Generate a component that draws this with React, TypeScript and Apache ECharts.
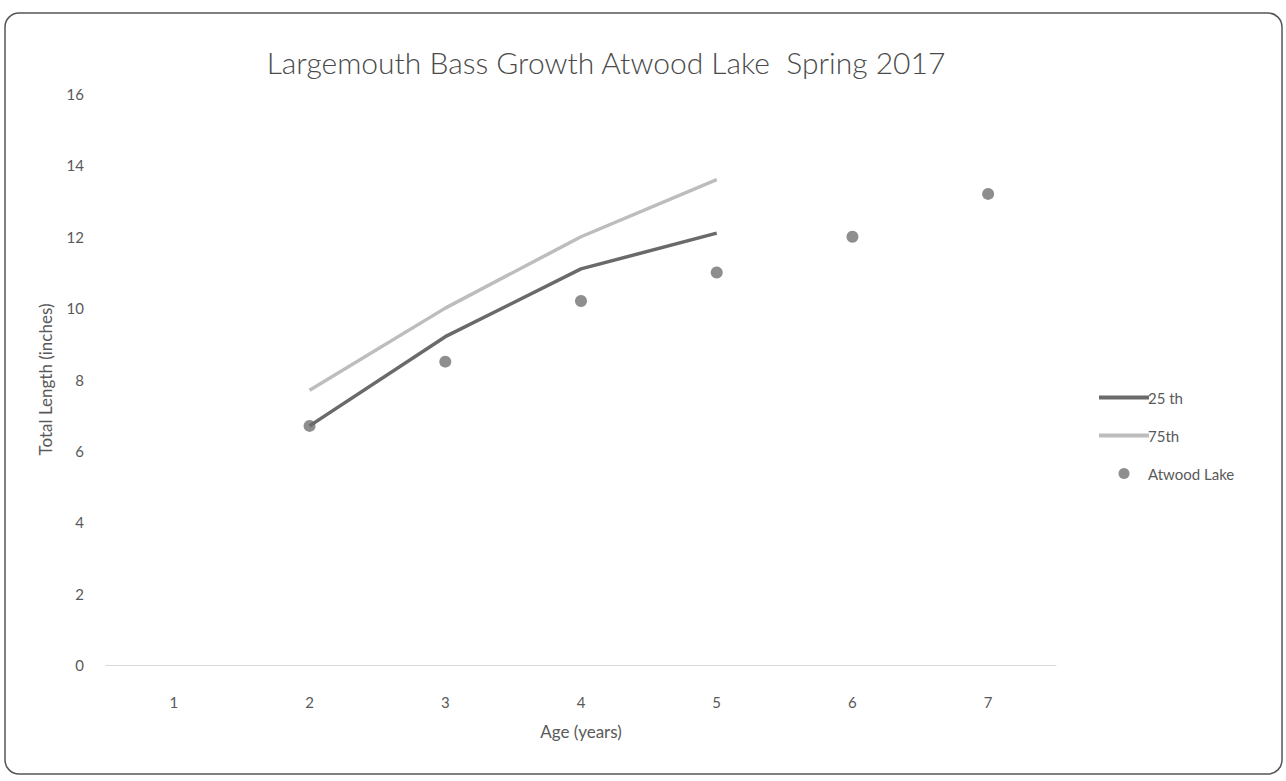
import React, { useEffect, useRef } from "react";
import * as echarts from "echarts";

const ages = ["1", "2", "3", "4", "5", "6", "7"];
const p25 = [null, 6.7, 9.2, 11.1, 12.1, null, null];
const p75 = [null, 7.7, 10.0, 12.0, 13.6, null, null];
const atwood = [null, 6.7, 8.5, 10.2, 11.0, 12.0, 13.2];
const yTicks = [0, 2, 4, 6, 8, 10, 12, 14, 16];

const FONT = "Lato";

export default function App() {
  const ref = useRef<HTMLDivElement>(null);
  useEffect(() => {
    if (!ref.current) return;
    const chart = echarts.init(ref.current, undefined, { renderer: "svg" });
    chart.setOption({
      animation: false,
      backgroundColor: "#ffffff",
      textStyle: { fontFamily: FONT },
      title: {
        text: "Largemouth Bass Growth Atwood Lake  Spring 2017",
        left: 601,
        textAlign: "center",
        top: 42,
        textStyle: { fontFamily: FONT, fontSize: 30, fontWeight: 300, color: "#4a4a4a" },
      },
      graphic: [
        {
          type: "rect",
          shape: { x: 5, y: 13, width: 1277, height: 761, r: 14 },
          style: { fill: "none", stroke: "#555555", lineWidth: 1.5 },
          silent: true,
        },
      ],
      grid: { left: 106, right: 230, top: 94, bottom: 116 },
      legend: {
        orient: "vertical",
        left: 1092,
        top: 385,
        itemWidth: 50,
        itemHeight: 11,
        itemGap: 23,
        textStyle: { fontFamily: FONT, fontSize: 15, color: "#595959", padding: [0, 0, 0, -6] },
        data: [
          { name: "25 th", itemStyle: { opacity: 0 }, lineStyle: { width: 4 } },
          { name: "75th", itemStyle: { opacity: 0 }, lineStyle: { width: 4 } },
          { name: "Atwood Lake" },
        ],
      },
      xAxis: {
        type: "category",
        data: ages,
        boundaryGap: true,
        name: "Age (years)",
        nameLocation: "middle",
        nameGap: 58,
        nameTextStyle: { fontFamily: FONT, fontSize: 17, color: "#595959" },
        axisLine: { lineStyle: { color: "#d9d9d9", width: 1 } },
        axisTick: { show: false },
        axisLabel: { fontFamily: FONT, fontSize: 15, color: "#595959", margin: 29 },
      },
      yAxis: {
        type: "value",
        min: yTicks[0],
        max: yTicks[yTicks.length - 1],
        interval: 2,
        name: "Total Length (inches)",
        nameLocation: "middle",
        nameGap: 52,
        nameTextStyle: { fontFamily: FONT, fontSize: 17, color: "#595959" },
        axisLine: { show: false },
        axisTick: { show: false },
        splitLine: { show: false },
        axisLabel: { fontFamily: FONT, fontSize: 15, color: "#595959", margin: 22 },
      },
      series: [
        {
          name: "25 th",
          type: "line",
          data: p25,
          showSymbol: false,
          symbol: "none",
          lineStyle: { color: "#6a6a6a", width: 3.5 },
          itemStyle: { color: "#6a6a6a" },
        },
        {
          name: "75th",
          type: "line",
          data: p75,
          showSymbol: false,
          symbol: "none",
          lineStyle: { color: "#bdbdbd", width: 3.5 },
          itemStyle: { color: "#bdbdbd" },
        },
        {
          name: "Atwood Lake",
          type: "scatter",
          data: atwood,
          symbolSize: 12,
          itemStyle: { color: "#727272" },
        },
      ],
    });
    return () => chart.dispose();
  }, []);
  return (
    <div
      ref={ref}
      style={{ position: "fixed", left: 0, top: 0, width: 1286, height: 781 }}
    />
  );
}
